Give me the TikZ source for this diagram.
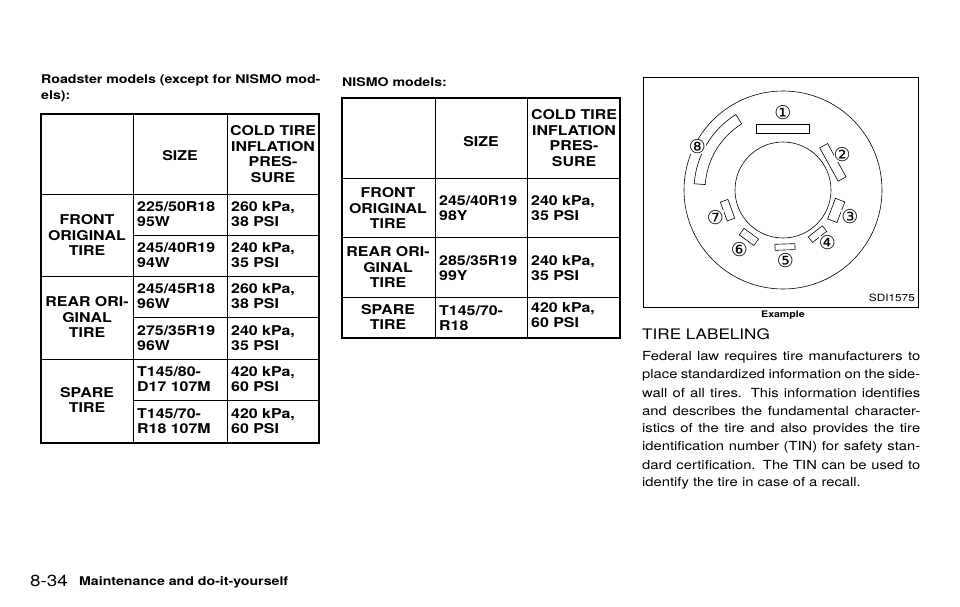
\documentclass[tikz,border=0pt]{standalone}
\usepackage{fontspec}
\setmainfont{TeX Gyre Heros}[FakeStretch=1.18]
\newfontfamily\symfont{DejaVu Sans}
\tikzset{
  thick box/.style={line width=2.2pt},
  cell line/.style={line width=0.9pt},
  cell/.style={font=\bfseries\fontsize{13.5}{15.5}\selectfont, inner sep=0pt},
  mid cell/.style={cell, align=center},
  left cell/.style={cell, align=left, anchor=west},
  bar/.style={draw, line width=0.6pt, fill=white},
  callout/.style={font=\symfont\fontsize{19}{19}\selectfont, inner sep=0pt},
  body/.style={font=\fontsize{12.5}{18}\selectfont, anchor=west, inner sep=0pt},
}
% one row of size and pressure cells
\newcommand\sizerow[5]{%
  \node[left cell] at (#1,#3) {#4};
  \node[left cell] at (#2,#3) {#5};}
\begin{document}
\begin{tikzpicture}[x=1pt,y=-1pt]
\useasboundingbox (0,0) rectangle (960,607);

% headings above the tables
\node[body, font=\bfseries\fontsize{12}{16}\selectfont, align=left, anchor=north west] (roadster) at (41,74)
  {Roadster models (except for NISMO mod-\\els):};
\node[body, font=\bfseries\fontsize{12}{16}\selectfont] (nismo) at (342,82) {NISMO models:};

% roadster table
\foreach \y in {194,276,359} \draw[cell line] (41,\y) -- (319,\y);
\foreach \y in {235,317,400} \draw[cell line] (133,\y) -- (319,\y);
\foreach \x in {133,227} \draw[cell line] (\x,114) -- (\x,443);
\draw[thick box] (41,114) rectangle (319,443);

\node[mid cell] (rsize) at (180,156) {SIZE};
\node[mid cell] (rcold) at (273,154) {COLD TIRE\\INFLATION\\PRES-\\SURE};
\node[mid cell] (rfront) at (87,235) {FRONT\\ORIGINAL\\TIRE};
\node[mid cell] (rrear) at (87,317) {REAR ORI-\\GINAL\\TIRE};
\node[mid cell] (rspare) at (87,400) {SPARE\\TIRE};
\sizerow{137}{231}{214}{225/50R18\\95W}{260 kPa,\\38 PSI}
\sizerow{137}{231}{255}{245/40R19\\94W}{240 kPa,\\35 PSI}
\sizerow{137}{231}{296}{245/45R18\\96W}{260 kPa,\\38 PSI}
\sizerow{137}{231}{338}{275/35R19\\96W}{240 kPa,\\35 PSI}
\sizerow{137}{231}{379}{T145/80-\\D17 107M}{420 kPa,\\60 PSI}
\sizerow{137}{231}{421}{T145/70-\\R18 107M}{420 kPa,\\60 PSI}

% nismo table
\foreach \y in {178,237,297} \draw[cell line] (342,\y) -- (620,\y);
\foreach \x in {435,527} \draw[cell line] (\x,98) -- (\x,338);
\draw[thick box] (342,98) rectangle (620,338);

\node[mid cell] (nsize) at (481,142) {SIZE};
\node[mid cell] (ncold) at (574,138) {COLD TIRE\\INFLATION\\PRES-\\SURE};
\node[mid cell] (nfront) at (388,208) {FRONT\\ORIGINAL\\TIRE};
\node[mid cell] (nrear) at (388,267) {REAR ORI-\\GINAL\\TIRE};
\node[mid cell] (nspare) at (388,317) {SPARE\\TIRE};
\sizerow{439}{531}{208}{245/40R19\\98Y}{240 kPa,\\35 PSI}
\sizerow{439}{531}{268}{285/35R19\\99Y}{240 kPa,\\35 PSI}
\node[left cell] at (439,318) {T145/70-\\R18};
\node[left cell] at (531,315) {420 kPa,\\60 PSI};

% tire label figure
\draw[line width=0.8pt] (643,77) rectangle (918,307);
\coordinate (hub) at (783,190);
\begin{scope}[shift={(783,190)}, y=1pt]
  \draw[line width=0.6pt] (0,0) circle[radius=99];
  \draw[line width=0.6pt] (0,0) circle[radius=48];
  \draw[bar] (122:78) arc[start angle=122,end angle=176,radius=78]
    -- (176:89) arc[start angle=176,end angle=122,radius=89] -- cycle;
  \foreach \a/\r/\len/\wid in {90/61/53/9, 29/57/38/9, -21/57/22/10, -52/56/18/7,
                               -88/57/20/6, -126/58/18/8, -160/59/20/8}
    \draw[bar, rotate=\a] (\r-\wid/2,-\len/2) rectangle (\r+\wid/2,\len/2);
  \foreach \n/\a/\r in {1/90/77, 2/31/69, 3/-22/72, 4/-50/69, 5/-88/71, 6/-126/74, 7/-158/73, 8/153/96}
    \node[callout, fill=white] (lab\n) at (\a:\r)
      {\ifcase\n\or ①\or ②\or ③\or ④\or ⑤\or ⑥\or ⑦\or ⑧\fi};
\end{scope}
\node[font=\fontsize{10}{12}\selectfont, anchor=east, inner sep=0pt] (code) at (915,298) {SDI1575};
\node[font=\bfseries\fontsize{9}{11}\selectfont, inner sep=0pt] (example) at (783,315) {Example};

% text column
\node[body, font=\fontsize{14.5}{16}\selectfont] (title) at (642,334) {TIRE LABELING};
\foreach \i/\txt in {0/Federal law requires tire manufacturers to,
                     1/place standardized information on the side-,
                     2/wall of all tires. This information identifies,
                     3/and describes the fundamental character-,
                     4/istics of the tire and also provides the tire,
                     5/identification number (TIN) for safety stan-,
                     6/dard certification. The TIN can be used to}
  \node[body] (line\i) at (642,357+18*\i) {\makebox[278pt][s]{\txt}};
\node[body] (line7) at (642,483) {identify the tire in case of a recall.};

% footer
\node[body, font=\fontsize{16}{17}\selectfont] (page) at (30,581) {8-34};
\node[body, font=\bfseries\fontsize{12}{14}\selectfont] (chapter) at (79,582) {Maintenance and do-it-yourself};
\end{tikzpicture}
\end{document}
